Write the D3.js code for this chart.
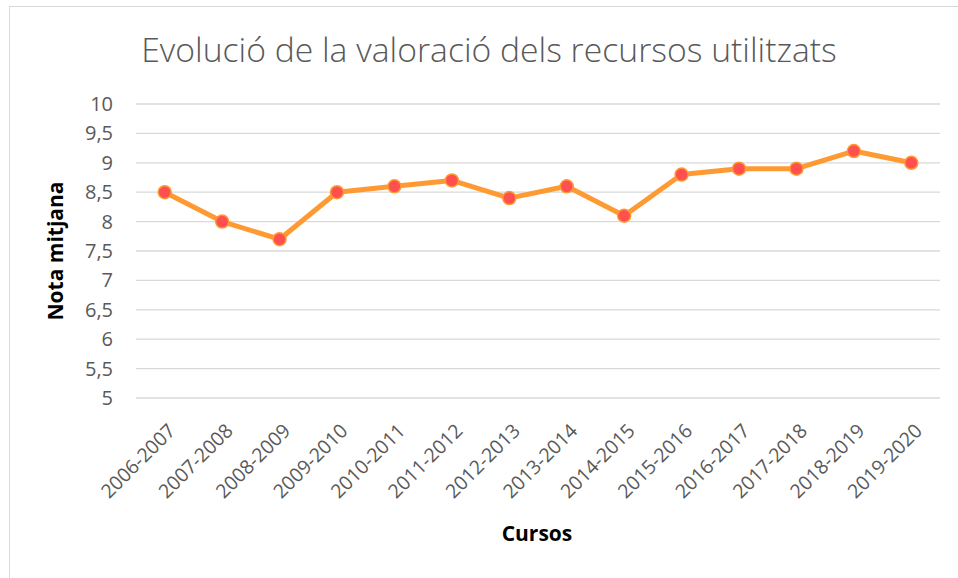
<!DOCTYPE html>
<html>
<head>
<meta charset="utf-8">
<script src="https://cdn.jsdelivr.net/npm/d3@7"></script>
<style>
  body { margin: 0; background: #fff; }
  svg { display: block; }
</style>
</head>
<body>
<svg id="chart"></svg>
<script>
const width = 958;
const height = 578;

// data
const cursos = ["2006-2007", "2007-2008", "2008-2009", "2009-2010", "2010-2011", "2011-2012",
  "2012-2013", "2013-2014", "2014-2015", "2015-2016", "2016-2017", "2017-2018", "2018-2019", "2019-2020"];
const notes = [8.5, 8.0, 7.7, 8.5, 8.6, 8.7, 8.4, 8.6, 8.1, 8.8, 8.9, 8.9, 9.2, 9.0];
const yTicks = [5, 5.5, 6, 6.5, 7, 7.5, 8, 8.5, 9, 9.5, 10];

const margin = { top: 104, right: 18, bottom: 180, left: 136 };
const font = "'Open Sans', sans-serif";

const svg = d3.select("#chart").attr("width", width).attr("height", height);

// chart frame
svg.append("rect")
  .attr("x", 9.5).attr("y", 6.5)
  .attr("width", 960).attr("height", 600)
  .attr("fill", "#fff")
  .attr("stroke", "#d9d9d9");

const x = d3.scaleBand()
  .domain(cursos)
  .range([margin.left, width - margin.right]);

const y = d3.scaleLinear()
  .domain([5, 10])
  .range([398, margin.top]);

// gridlines
svg.append("g")
  .selectAll("line")
  .data(yTicks)
  .join("line")
  .attr("x1", margin.left).attr("x2", width - margin.right)
  .attr("y1", d => y(d)).attr("y2", d => y(d))
  .attr("stroke", "#d9d9d9")
  .attr("stroke-width", 1.3);

// y axis
const fmt = d => String(d).replace(".", ",");
const yAxis = svg.append("g")
  .attr("transform", `translate(${margin.left - 23},0)`)
  .call(d3.axisLeft(y).tickValues(yTicks).tickFormat(fmt).tickSize(0).tickPadding(0));
yAxis.select(".domain").remove();
yAxis.selectAll("text")
  .attr("fill", "#595959")
  .style("font-family", font)
  .style("font-size", "20px");

// x axis
const xAxis = svg.append("g")
  .attr("transform", `translate(0,${y(5)})`)
  .call(d3.axisBottom(x).tickSize(0).tickPadding(0));
xAxis.select(".domain").remove();
xAxis.selectAll("text")
  .attr("fill", "#595959")
  .style("font-family", font)
  .style("font-size", "19.5px")
  .attr("text-anchor", "end")
  .attr("dy", 0)
  .attr("transform", "translate(12,34) rotate(-45)");

// line
const line = d3.line()
  .x((d, i) => x(cursos[i]) + x.bandwidth() / 2)
  .y(d => y(d));

svg.append("path")
  .datum(notes)
  .attr("d", line)
  .attr("fill", "none")
  .attr("stroke", "#ff9a33")
  .attr("stroke-width", 5)
  .attr("stroke-linejoin", "round");

svg.append("g")
  .selectAll("circle")
  .data(notes)
  .join("circle")
  .attr("cx", (d, i) => x(cursos[i]) + x.bandwidth() / 2)
  .attr("cy", d => y(d))
  .attr("r", 6.5)
  .attr("fill", "#ff4f4f")
  .attr("stroke", "#ff9a33")
  .attr("stroke-width", 1.5);

// title
svg.append("text")
  .attr("x", 489).attr("y", 62)
  .attr("text-anchor", "middle")
  .attr("fill", "#595959")
  .style("font-family", font)
  .style("font-weight", 300)
  .style("font-size", "33.7px")
  .text("Evolució de la valoració dels recursos utilitzats");

// axis titles
svg.append("text")
  .attr("transform", `translate(63,${(y(5) + y(10)) / 2}) rotate(-90)`)
  .attr("text-anchor", "middle")
  .attr("fill", "#000")
  .style("font-family", font)
  .style("font-weight", "bold")
  .style("font-size", "21px")
  .text("Nota mitjana");

svg.append("text")
  .attr("x", 537).attr("y", 541)
  .attr("text-anchor", "middle")
  .attr("fill", "#000")
  .style("font-family", font)
  .style("font-weight", "bold")
  .style("font-size", "21px")
  .text("Cursos");
</script>
</body>
</html>
